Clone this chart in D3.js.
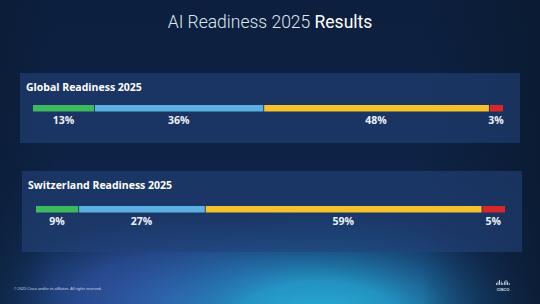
<!DOCTYPE html>
<html>
<head>
<meta charset="utf-8">
<script src="https://cdn.jsdelivr.net/npm/d3@7"></script>
<style>
  html, body { margin: 0; padding: 0; background: #0c1e3c; }
  svg { display: block; }
</style>
</head>
<body>
<div id="content"></div>
<script>
const svgWidth = 540, svgHeight = 304;

// data
const categories = ["Pacesetters", "Chasers", "Followers", "Laggards"];
const panelTitles = ["Global Readiness 2025", "Switzerland Readiness 2025"];
const globalValues = [13, 36, 48, 3];
const switzerlandValues = [9, 27, 59, 5];
const seriesValues = [globalValues, switzerlandValues];

const colors = d3.scaleOrdinal()
  .domain(categories)
  .range(["#3dba5e", "#5cb0e2", "#f6c22b", "#d8272b"]);

// panel boxes
const panels = [
  {x: 20, y: 73, w: 500, h: 70, barX0: 33, barX1: 503, barDy: 32},
  {x: 22, y: 171, w: 500, h: 81, barX0: 36, barX1: 505, barDy: 35}
];

const svg = d3.select("#content").append("svg")
  .attr("width", svgWidth)
  .attr("height", svgHeight);

const defs = svg.append("defs");

const base = defs.append("linearGradient").attr("id", "base")
  .attr("x1", 0).attr("y1", 0).attr("x2", 0).attr("y2", 1);
base.append("stop").attr("offset", "0%").attr("stop-color", "#0c1f3e");
base.append("stop").attr("offset", "60%").attr("stop-color", "#0e2346");
base.append("stop").attr("offset", "100%").attr("stop-color", "#14345f");

const glowLeft = defs.append("radialGradient").attr("id", "glowLeft")
  .attr("gradientUnits", "userSpaceOnUse")
  .attr("cx", 175).attr("cy", 300).attr("r", 150)
  .attr("gradientTransform", "translate(175,300) scale(1.2,0.55) translate(-175,-300)");
glowLeft.append("stop").attr("offset", "0%").attr("stop-color", "#3a5fb2").attr("stop-opacity", 1);
glowLeft.append("stop").attr("offset", "55%").attr("stop-color", "#2f52a0").attr("stop-opacity", 0.7);
glowLeft.append("stop").attr("offset", "100%").attr("stop-color", "#24458a").attr("stop-opacity", 0);

const glow = defs.append("radialGradient").attr("id", "glow")
  .attr("gradientUnits", "userSpaceOnUse")
  .attr("cx", 320).attr("cy", 320).attr("r", 200)
  .attr("gradientTransform", "translate(320,320) scale(1.15,0.55) translate(-320,-320)");
glow.append("stop").attr("offset", "0%").attr("stop-color", "#2ab2da").attr("stop-opacity", 1);
glow.append("stop").attr("offset", "35%").attr("stop-color", "#249ccb").attr("stop-opacity", 0.9);
glow.append("stop").attr("offset", "70%").attr("stop-color", "#1f6fa8").attr("stop-opacity", 0.45);
glow.append("stop").attr("offset", "100%").attr("stop-color", "#1a5090").attr("stop-opacity", 0);

const shadeRight = defs.append("linearGradient").attr("id", "shadeRight")
  .attr("x1", 0).attr("y1", 0).attr("x2", 1).attr("y2", 0);
shadeRight.append("stop").attr("offset", "0%").attr("stop-color", "#0a1a30").attr("stop-opacity", 0.5);
shadeRight.append("stop").attr("offset", "10%").attr("stop-color", "#0a1a30").attr("stop-opacity", 0);
shadeRight.append("stop").attr("offset", "78%").attr("stop-color", "#0a1a30").attr("stop-opacity", 0);
shadeRight.append("stop").attr("offset", "100%").attr("stop-color", "#0a1a30").attr("stop-opacity", 0.85);

svg.append("rect").attr("width", svgWidth).attr("height", svgHeight).attr("fill", "url(#base)");
svg.append("rect").attr("width", svgWidth).attr("height", svgHeight).attr("fill", "url(#glowLeft)");
svg.append("rect").attr("width", svgWidth).attr("height", svgHeight).attr("fill", "url(#glow)");
svg.append("rect").attr("width", svgWidth).attr("height", svgHeight).attr("fill", "url(#shadeRight)");

// title
const title = svg.append("text")
  .attr("x", svgWidth / 2).attr("y", 28)
  .attr("text-anchor", "middle")
  .style("font-family", "Roboto, 'Liberation Sans', sans-serif")
  .style("font-size", "17.5px")
  .attr("fill", "#dfe6f0");
title.append("tspan").style("font-weight", 300).text("AI Readiness 2025 ");
title.append("tspan").style("font-weight", 400).attr("fill", "#ffffff").text("Results");

// panels
panels.forEach((p, i) => {
  const values = seriesValues[i];
  const g = svg.append("g");

  g.append("rect")
    .attr("x", p.x).attr("y", p.y).attr("width", p.w).attr("height", p.h)
    .attr("fill", "#23437a").attr("fill-opacity", 0.6);

  g.append("text")
    .attr("x", p.x + 6).attr("y", p.y + 18)
    .style("font-family", "'Open Sans', 'DejaVu Sans', sans-serif")
    .style("font-weight", 700).style("font-size", "10.5px")
    .attr("fill", "#ffffff")
    .text(panelTitles[i]);

  const x = d3.scaleLinear().domain([0, d3.sum(values)]).range([p.barX0, p.barX1]);
  const stacked = [];
  let acc = 0;
  values.forEach((v, k) => { stacked.push({cat: categories[k], v, x0: acc, x1: acc + v}); acc += v; });

  const barY = p.y + p.barDy;

  g.selectAll("rect.seg").data(stacked).enter().append("rect")
    .attr("class", "seg")
    .attr("x", d => x(d.x0) + (d.x0 > 0 ? 0.9 : 0))
    .attr("y", barY)
    .attr("width", d => x(d.x1) - x(d.x0) - (d.x0 > 0 ? 0.9 : 0))
    .attr("height", 6.5)
    .attr("fill", d => colors(d.cat));

  g.selectAll("text.lbl").data(stacked).enter().append("text")
    .attr("class", "lbl")
    .attr("x", d => (x(d.x0) + x(d.x1)) / 2)
    .attr("y", barY + 19)
    .attr("text-anchor", "middle")
    .style("font-family", "'Open Sans', 'DejaVu Sans', sans-serif")
    .style("font-weight", 700).style("font-size", "10.5px")
    .attr("fill", "#eef2f8")
    .text(d => d.v + "%");
});

// footer
svg.append("text")
  .attr("x", 14).attr("y", 290)
  .style("font-family", "'Liberation Sans', sans-serif")
  .style("font-size", "3.8px")
  .attr("fill", "#c8d4e8")
  .text("© 2025 Cisco and/or its affiliates. All rights reserved.");

// cisco logo bars
const logoBars = [2, 3.5, 5, 3.5, 2, 3.5, 5, 3.5, 2];
svg.selectAll("rect.logo").data(logoBars).enter().append("rect")
  .attr("class", "logo")
  .attr("x", (d, i) => 496 + i * 1.6)
  .attr("y", d => 285 - d)
  .attr("width", 0.8)
  .attr("height", d => d)
  .attr("fill", "#dde6f2");
svg.append("text")
  .attr("x", 503).attr("y", 290.5)
  .attr("text-anchor", "middle")
  .style("font-family", "'Liberation Sans', sans-serif")
  .style("font-size", "4px").style("font-weight", 700)
  .attr("fill", "#dde6f2")
  .text("CISCO");
</script>
</body>
</html>
